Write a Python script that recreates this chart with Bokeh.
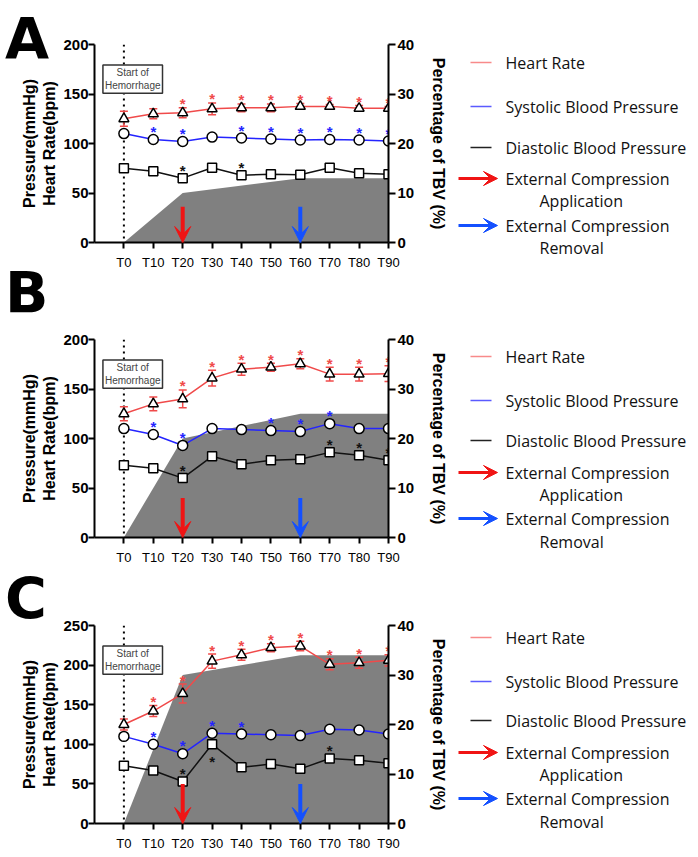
from bokeh.plotting import figure
from bokeh.models import Range1d, LinearAxis, FixedTicker, Span, Label, Arrow, VeeHead, Div
from bokeh.layouts import row, column
from bokeh.embed import file_html
from bokeh.resources import INLINE
from bokeh.core.properties import value

# ---------------- data ----------------
times = [0, 10, 20, 30, 40, 50, 60, 70, 80, 90]
time_labels = ["T0", "T10", "T20", "T30", "T40", "T50", "T60", "T70", "T80", "T90"]
tbv_ticks = [0, 10, 20, 30, 40]
event_times = [20, 60]          # compression application / removal

# Panel A
a_hr = [125, 130, 131, 135, 136, 136, 137.5, 137.5, 135.5, 135.5]
a_hr_err = [7.5, 5, 5, 6, 4, 4, 3, 2, 3, 2]
a_sbp = [110, 104, 102, 106.5, 105.5, 104.5, 103.5, 104, 103.5, 102.5]
a_dbp = [75, 72, 65, 75.5, 68, 69, 68.5, 75.5, 70, 69]
a_hr_stars = [20, 30, 40, 50, 60, 70, 80, 90]
a_sbp_stars = [10, 20, 40, 50, 60, 70, 80, 90]
a_dbp_stars = [20, 40]
a_dbp_stars_below = []
a_tbv_t = [0, 20, 60, 90]
a_tbv = [0, 10, 13, 13]

# Panel B
b_hr = [125, 135, 140, 161, 170, 172, 175.5, 165, 165, 165.5]
b_hr_err = [7, 7, 9, 8, 6, 4, 5, 7, 7, 8]
b_sbp = [110, 104, 93, 110, 109, 108, 107, 115, 110, 110]
b_dbp = [73, 70, 60, 82, 74, 78, 79, 86, 83, 78]
b_hr_stars = [20, 30, 40, 50, 60, 70, 80, 90]
b_sbp_stars = [10, 20, 50, 60, 70]
b_dbp_stars = [20, 70, 80, 90]
b_dbp_stars_below = []
b_tbv_t = [0, 20, 60, 90]
b_tbv = [0, 20, 25, 25]

# Panel C
c_hr = [125, 142, 164, 205, 213, 222, 224, 201, 203, 206]
c_hr_err = [7, 7, 12, 9, 7, 5, 6, 7, 7, 7]
c_sbp = [110, 100, 88, 114, 113, 112, 111, 119, 118, 113]
c_dbp = [73, 67, 53, 100, 71, 75, 69, 82, 80, 76]
c_hr_stars = [10, 20, 30, 40, 50, 60, 70, 80, 90]
c_sbp_stars = [10, 20, 30, 40]
c_dbp_stars = [20, 70]
c_dbp_stars_below = [30]
c_tbv_t = [0, 20, 60, 90]
c_tbv = [0, 30, 34, 34]

panel_letters = ["A", "B", "C"]
legend_names = ["Heart Rate", "Systolic Blood Pressure", "Diastolic Blood Pressure"]
arrow_names = [("External Compression", "Application"), ("External Compression", "Removal")]

# ---------------- style / layout ----------------
HR_COL = "#f04a4a"
SBP_COL = "#2424ff"
DBP_COL = "#111111"
RED_ARROW = "#f01414"
BLUE_ARROW = "#1450ff"
AREA_COL = "#808080"
FRAME_H = 198
MAIN_W = 450
LEG_W = 246
BORDER_L = 94
BORDER_R = 60
PANEL_H = [287, 280, 289]
PANEL_TOP_B = [44, 52, 58]
TOTAL_H = sum(PANEL_H)
# vertical positions (px from top of the page) of each panel's legend rows
legend_rows = [
    [62, 106, 147, 178, 200, 225, 247],
    [356, 400, 440, 472, 494, 518, 541],
    [637, 681, 720, 752, 774, 798, 821],
]
letter_tops = [6, 260, 566]


def style_axis(ax, size="15px", bold=True):
    ax.axis_line_width = 2
    ax.major_tick_line_width = 2
    ax.major_tick_in = 0
    ax.major_tick_out = 7
    ax.minor_tick_line_color = None
    ax.major_label_text_font = "Liberation Sans"
    ax.major_label_text_font_size = size
    ax.major_label_text_font_style = "bold" if bold else "normal"
    ax.major_label_text_color = "black"
    ax.axis_label_text_font = "Liberation Sans"
    ax.axis_label_text_font_size = "16px"
    ax.axis_label_text_font_style = "bold"
    ax.axis_label_text_color = "black"


def star_text(p, xs, ys, color, yoff):
    p.text(x=xs, y=ys, text=["*"] * len(xs), text_font=value("Liberation Sans"),
           text_font_size="15px", text_font_style="bold", text_align="center",
           text_baseline="alphabetic", text_color=color, y_offset=yoff)


def make_panel(hr, hr_err, sbp, dbp, hr_stars, sbp_stars, dbp_stars, dbp_below,
               tbv_t, tbv_v, ymax, arrow_top, fig_h, top_b):
    bottom_b = fig_h - top_b - FRAME_H
    p = figure(width=MAIN_W, height=fig_h, x_range=Range1d(-10, 90), y_range=Range1d(0, ymax),
               output_backend="svg", toolbar_location=None,
               min_border_left=BORDER_L, min_border_right=BORDER_R,
               min_border_top=top_b, min_border_bottom=bottom_b)
    p.outline_line_color = None
    p.grid.visible = False
    p.extra_y_ranges = {"tbv": Range1d(0, 40)}

    p.xaxis.ticker = FixedTicker(ticks=times)
    p.xaxis.major_label_overrides = {t: l for t, l in zip(times, time_labels)}
    style_axis(p.xaxis[0], "13px", bold=False)
    p.xaxis.major_label_standoff = 6
    p.xaxis.major_tick_out = 6

    p.yaxis.ticker = FixedTicker(ticks=list(range(0, ymax + 1, 50)))
    style_axis(p.yaxis[0])
    p.yaxis.major_tick_out = 6
    p.yaxis.major_label_standoff = 0
    p.yaxis.axis_label = "Pressure(mmHg)\nHeart Rate(bpm)"
    p.yaxis.axis_label_standoff = 2

    rax = LinearAxis(y_range_name="tbv", ticker=FixedTicker(ticks=tbv_ticks))
    style_axis(rax)
    rax.major_label_standoff = 2
    rax.axis_label = "Percentage of TBV (%)"
    rax.axis_label_standoff = 13
    p.add_layout(rax, "right")

    p.varea(x=tbv_t, y1=[0] * len(tbv_t), y2=tbv_v, y_range_name="tbv", fill_color=AREA_COL)

    p.add_layout(Span(location=times[0], dimension="height", line_color="black",
                      line_dash="2 4", line_width=2, level="underlay"))

    lo = [v - e for v, e in zip(hr, hr_err)]
    hi = [v + e for v, e in zip(hr, hr_err)]
    p.segment(x0=times, y0=lo, x1=times, y1=hi, line_color=HR_COL, line_width=1.5)
    p.scatter(x=times + times, y=lo + hi, marker="dash", size=8, line_color=HR_COL, line_width=1.5)

    p.line(times, hr, line_color=HR_COL, line_width=1.5)
    p.line(times, sbp, line_color=SBP_COL, line_width=1.5)
    p.line(times, dbp, line_color=DBP_COL, line_width=1.5)

    p.scatter(times, hr, marker="triangle", size=10, fill_color="white", line_color="black", line_width=1.5)
    p.scatter(times, sbp, marker="circle", size=10, fill_color="white", line_color="black", line_width=1.5)
    p.scatter(times, dbp, marker="square", size=9, fill_color="white", line_color="black", line_width=1.5)

    hr_top = dict(zip(times, hi))
    star_text(p, hr_stars, [hr_top[t] for t in hr_stars], HR_COL, -4)
    sb = dict(zip(times, sbp))
    star_text(p, sbp_stars, [sb[t] for t in sbp_stars], SBP_COL, -8)
    db = dict(zip(times, dbp))
    star_text(p, dbp_stars, [db[t] for t in dbp_stars], DBP_COL, -8)
    if dbp_below:
        star_text(p, dbp_below, [db[t] for t in dbp_below], DBP_COL, 17)

    for t, col in zip(event_times, [RED_ARROW, BLUE_ARROW]):
        p.add_layout(Arrow(x_start=t, y_start=arrow_top, x_end=t, y_end=0,
                           line_color=col, line_width=4,
                           end=VeeHead(size=16, fill_color=col, line_color=col, line_width=1)))

    p.add_layout(Label(x=3, y=0.825 * ymax, text="Start of\nHemorrhage", text_align="center",
                       text_baseline="middle", text_font="Liberation Sans", text_font_size="10px",
                       border_line_color="#333333", border_line_width=1.5,
                       background_fill_color="white", padding=2))
    return p


pA = make_panel(a_hr, a_hr_err, a_sbp, a_dbp, a_hr_stars, a_sbp_stars, a_dbp_stars,
                a_dbp_stars_below, a_tbv_t, a_tbv, 200, 36, PANEL_H[0], PANEL_TOP_B[0])
pB = make_panel(b_hr, b_hr_err, b_sbp, b_dbp, b_hr_stars, b_sbp_stars, b_dbp_stars,
                b_dbp_stars_below, b_tbv_t, b_tbv, 200, 40, PANEL_H[1], PANEL_TOP_B[1])
pC = make_panel(c_hr, c_hr_err, c_sbp, c_dbp, c_hr_stars, c_sbp_stars, c_dbp_stars,
                c_dbp_stars_below, c_tbv_t, c_tbv, 250, 50, PANEL_H[2], PANEL_TOP_B[2])

# legend figure spanning all three panels
lg = figure(width=LEG_W, height=TOTAL_H, x_range=Range1d(0, LEG_W), y_range=Range1d(TOTAL_H, 0),
            output_backend="svg", toolbar_location=None, x_axis_location=None,
            y_axis_location=None, min_border=0)
lg.outline_line_color = None
lg.grid.visible = False
line_cols = ["#f88a8a", "#5a5aff", "#222222"]
for rows in legend_rows:
    for name, col, yy in zip(legend_names, line_cols, rows[:3]):
        lg.segment(x0=[20], y0=[yy], x1=[41], y1=[yy], line_color=col, line_width=1.5)
        lg.text(x=[55], y=[yy], text=[name], text_font=value("Open Sans"), text_font_size="16px",
                text_baseline="middle", text_color="#111111")
    for (l1, l2), col, (y1, y2) in zip(arrow_names, [RED_ARROW, BLUE_ARROW],
                                        [rows[3:5], rows[5:7]]):
        lg.add_layout(Arrow(x_start=8, y_start=y1, x_end=47, y_end=y1, line_color=col, line_width=3,
                            end=VeeHead(size=14, fill_color=col, line_color=col, line_width=1)))
        lg.text(x=[55], y=[y1], text=[l1], text_font=value("Open Sans"), text_font_size="16px",
                text_baseline="middle", text_color="#111111")
        lg.text(x=[89], y=[y2], text=[l2], text_font=value("Open Sans"), text_font_size="16px",
                text_baseline="middle", text_color="#111111")

letters = [Div(text=l, width=50, height=60,
               styles={"position": "absolute", "left": "0px", "top": f"{t}px",
                       "font-family": "DejaVu Sans", "font-weight": "bold", "font-size": "57px",
                       "line-height": "57px", "color": "black", "z-index": "10"})
           for l, t in zip(panel_letters, letter_tops)]

layout = column(row(column(pA, pB, pC), lg), *letters)
open("out.html", "w").write(file_html(layout, INLINE))
